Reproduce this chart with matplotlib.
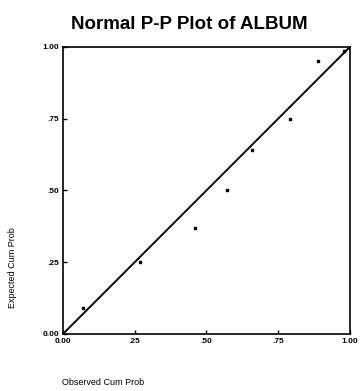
import matplotlib
matplotlib.use("Agg")
import matplotlib.pyplot as plt

plt.rcParams['font.family'] = ['Liberation Sans', 'DejaVu Sans']

# observed vs expected cumulative probabilities
observed = [0.00, 0.07, 0.27, 0.46, 0.57, 0.66, 0.79, 0.89, 0.98]
expected = [0.00, 0.09, 0.25, 0.37, 0.50, 0.64, 0.75, 0.95, 0.985]
ticks = [0.0, 0.25, 0.5, 0.75, 1.0]
tick_labels = ["0.00", ".25", ".50", ".75", "1.00"]

fig = plt.figure(figsize=(3.6, 3.91), dpi=100)
ax = fig.add_axes([0.175, 0.146, 0.797, 0.734])

ax.plot([0, 1], [0, 1], color='black', lw=1.4)
ax.scatter(observed, expected, marker='s', s=4, color='black', zorder=3)

ax.set_xlim(0, 1)
ax.set_ylim(0, 1)
ax.set_xticks(ticks)
ax.set_yticks(ticks)
ax.set_xticklabels(tick_labels, fontsize=6, fontweight='bold')
ax.set_yticklabels(tick_labels, fontsize=6, fontweight='bold')
ax.tick_params(direction='in', length=3, width=1, pad=3)
for s in ax.spines.values():
    s.set_linewidth(1.2)

fig.text(0.525, 0.938, "Normal P-P Plot of ALBUM", ha='center', va='center',
         fontsize=13.5, fontweight='bold')
fig.text(0.172, 0.023, "Observed Cum Prob", ha='left', va='center', fontsize=6.5)
fig.text(0.035, 0.315, "Expected Cum Prob", ha='center', va='center',
         rotation=90, fontsize=6.5)

fig.savefig("out.png", dpi=100)
